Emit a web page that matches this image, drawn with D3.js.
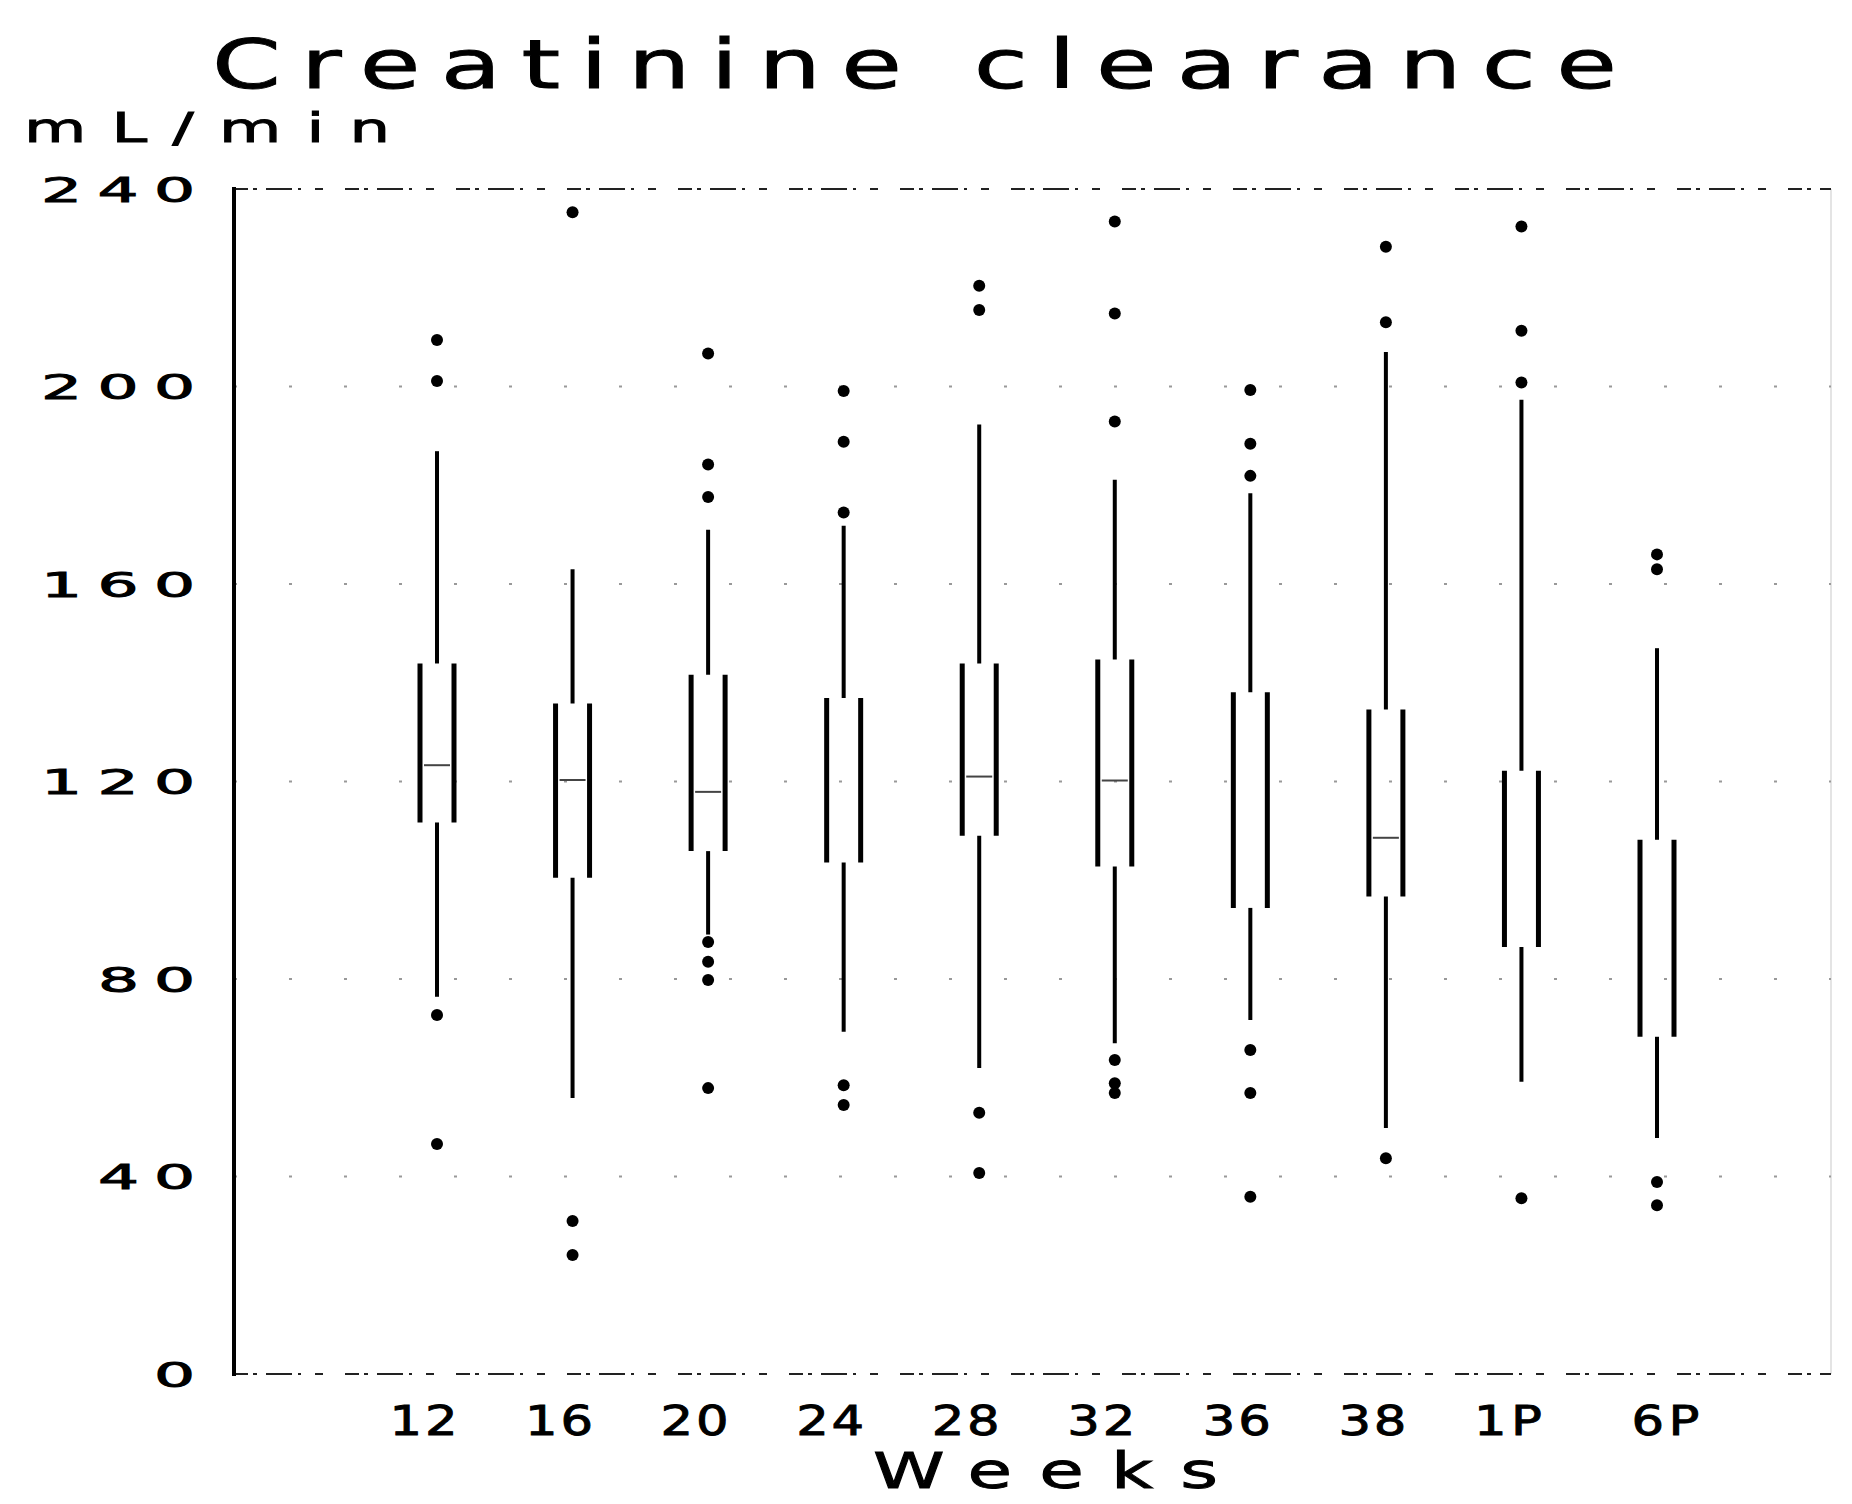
<!DOCTYPE html>
<html>
<head>
<meta charset="utf-8">
<script src="https://cdn.jsdelivr.net/npm/d3@7"></script>
<style>
body { margin: 0; background: #fff; }
text { font-family: "DejaVu Sans", sans-serif; fill: #000; stroke: #000; stroke-width: 0.9; }
</style>
</head>
<body>
<script>
// categories and box stats (mL/min)
var weeks = ["12","16","20","24","28","32","36","38","1P","6P"];
var q1 = [111.7,100.5,105.9,103.6,109,102.8,94.4,96.7,86.5,68.3];
var q3 = [143.9,135.8,141.6,136.9,143.9,144.7,138.1,134.6,122.2,108.2];
var medians = [123.3,120.3,117.9,null,121,120.2,null,108.6,null,null];
var whiskLow = [76.4,55.9,89,69.3,62,67,71.7,49.8,59.2,47.8];
var whiskHigh = [186.9,163,171,171.8,192.3,181.1,178.4,207,197.3,147];
var outliers = [
	[209.4,201.1,72.7,46.6],
	[235.3,31,24.1],
	[206.7,184.2,177.6,87.5,83.5,79.8,57.9],
	[199.1,188.8,174.5,58.5,54.5],
	[220.4,215.5,52.9,40.7],
	[233.4,214.8,192.9,63.6,58.9,56.9],
	[199.3,188.4,181.9,65.6,56.9,35.9],
	[228.3,213,43.7],
	[232.4,211.3,200.8,35.6],
	[166,163,38.9,34.2]
];
var yTicks = [0,40,80,120,160,200,240];

var width = 1852, height = 1504;
var m = {l: 234, r: 1831, t: 189, b: 1374};

var svg = d3.select("body").append("svg")
	.attr("width", width)
	.attr("height", height);
svg.append("rect").attr("width", width).attr("height", height).attr("fill", "#fff");

var x = d3.scalePoint().domain(weeks).range([437, 1657]);
var y = d3.scaleLinear().domain([0, 240]).range([m.b, m.t]);

//wide spaced text helper (old plotter font is wide)
function wideText(px, py, str, size, len, sx){
	return svg.append("text")
		.attr("transform", "translate(" + px + "," + py + ") scale(" + sx + ",1)")
		.attr("font-size", size)
		.attr("textLength", len / sx)
		.attr("lengthAdjust", "spacing")
		.text(str);
}

//faint right border
svg.append("line")
	.attr("x1", m.r).attr("x2", m.r)
	.attr("y1", m.t).attr("y2", m.b)
	.attr("stroke", "#e4e4e4").attr("stroke-width", 2);

//Gridlines
for (var i=0;i<yTicks.length;i++){
	var v = yTicks[i];
	var edge = (v == 0 || v == 240);
	svg.append("line")
		.attr("x1", m.l).attr("x2", m.r)
		.attr("y1", y(v)).attr("y2", y(v))
		.attr("stroke", edge ? "#222" : "#999")
		.attr("stroke-width", 2)
		.attr("stroke-dasharray", edge ? "14,5,4,9,26,6,3,14,8,22" : "3,52");
}

//Y axis line
svg.append("line")
	.attr("x1", m.l).attr("x2", m.l)
	.attr("y1", m.t - 2).attr("y2", m.b + 2)
	.attr("stroke", "#000").attr("stroke-width", 4);

//Y tick labels
var ysx = 1.9;
var yAxis = svg.append("g")
	.attr("transform", "translate(" + m.l + ",0)")
	.call(d3.axisLeft(y).tickValues(yTicks).tickSize(0));
yAxis.select(".domain").remove();
yAxis.selectAll("text")
	.attr("x", 0).attr("dy", "0.36em")
	.attr("font-size", 34)
	.attr("font-family", "DejaVu Sans")
	.attr("fill", "#000")
	.each(function(){
		var n = this.textContent.length;
		d3.select(this)
			.attr("transform", "translate(-39,0) scale(" + ysx + ",1)")
			.attr("textLength", (57*n - 17) / ysx)
			.attr("lengthAdjust", "spacing");
	});

//X tick labels
var xsx = 1.25;
var xAxis = svg.append("g")
	.attr("transform", "translate(0," + m.b + ")")
	.call(d3.axisBottom(x).tickSize(0));
xAxis.select(".domain").remove();
xAxis.selectAll("text")
	.attr("y", 0).attr("dy", 0)
	.attr("transform", function(d){
		var off = (d == "6P") ? 8 : -14;
		return "translate(" + off + ",61) scale(" + xsx + ",1)";
	})
	.attr("font-size", 41)
	.attr("font-family", "DejaVu Sans")
	.attr("fill", "#000")
	.attr("textLength", 68 / xsx)
	.attr("lengthAdjust", "spacing");

//Boxes
var boxW = 34;
for (var i=0;i<weeks.length;i++){
	var cx = x(weeks[i]);
	var g = svg.append("g");
	//sides
	g.append("line")
		.attr("x1", cx - boxW/2).attr("x2", cx - boxW/2)
		.attr("y1", y(q3[i])).attr("y2", y(q1[i]))
		.attr("stroke", "#000").attr("stroke-width", 5);
	g.append("line")
		.attr("x1", cx + boxW/2).attr("x2", cx + boxW/2)
		.attr("y1", y(q3[i])).attr("y2", y(q1[i]))
		.attr("stroke", "#000").attr("stroke-width", 5);
	//whiskers
	g.append("line")
		.attr("x1", cx).attr("x2", cx)
		.attr("y1", y(whiskHigh[i])).attr("y2", y(q3[i]))
		.attr("stroke", "#000").attr("stroke-width", 4);
	g.append("line")
		.attr("x1", cx).attr("x2", cx)
		.attr("y1", y(q1[i])).attr("y2", y(whiskLow[i]))
		.attr("stroke", "#000").attr("stroke-width", 4);
	//median
	if (medians[i] != null){
		g.append("line")
			.attr("x1", cx - boxW/2 + 4).attr("x2", cx + boxW/2 - 4)
			.attr("y1", y(medians[i])).attr("y2", y(medians[i]))
			.attr("stroke", "#444").attr("stroke-width", 2);
	}
	//outliers
	g.selectAll("circle")
		.data(outliers[i])
		.enter().append("circle")
			.attr("cx", cx)
			.attr("cy", function(d){ return y(d); })
			.attr("r", 6)
			.attr("fill", "#000");
}

//Titles
wideText(212, 88, "Creatinine clearance", 68, 1405, 1.45);
wideText(24, 142, "mL/min", 40, 366, 1.6);
wideText(873, 1488, "Weeks", 50, 345, 1.45);
</script>
</body>
</html>
